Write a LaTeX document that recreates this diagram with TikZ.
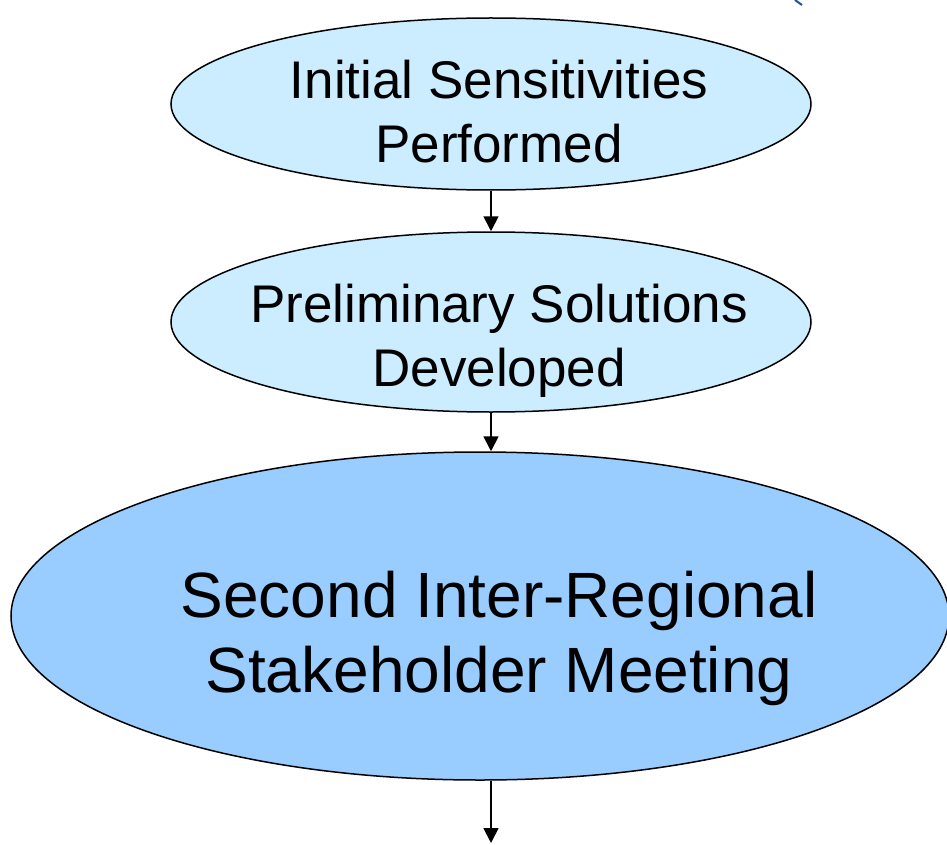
\documentclass[tikz,border=0pt]{standalone}
\usepackage{fontspec}
\setmainfont{Liberation Sans}
\usetikzlibrary{shapes.geometric,arrows.meta}
\definecolor{lightfill}{HTML}{CCECFF}
\definecolor{darkfill}{HTML}{99CCFF}
\definecolor{markblue}{HTML}{1F4FB0}
\newcommand\lsA{\rule[-13pt]{0pt}{64pt}}
\newcommand\lsB{\rule[-15pt]{0pt}{75pt}}
\begin{document}
\begin{tikzpicture}[x=1pt,y=-1pt,
  stage/.style={ellipse, draw=black, line width=1.5pt, inner sep=0pt},
  smallstage/.style={stage, fill=lightfill, minimum width=640pt},
  bigstage/.style={stage, fill=darkfill, minimum width=938pt, minimum height=328pt},
  lbl/.style={align=center, inner sep=0pt, font=\fontsize{53}{64}\selectfont},
  lblbig/.style={align=center, inner sep=0pt, font=\fontsize{64}{75}\selectfont},
  flow/.style={line width=1.8pt, -{Triangle[length=15pt,width=15pt]}}]
\useasboundingbox (0,0) rectangle (947,845);
\node[smallstage, minimum height=172pt] (e1) at (491,104) {};
\node[smallstage, minimum height=180pt] (e2) at (491,322) {};
\node[bigstage] (e3) at (480,616) {};
\node[lbl] (t1) at (499,111.5) {\lsA Initial Sensitivities\\\lsA Performed};
\node[lbl] (t2) at (499,335.5) {\lsA Preliminary Solutions\\\lsA Developed};
\node[lblbig] (t3) at (499,632) {\lsB Second Inter-Regional\\\lsB Stakeholder Meeting};
\coordinate (end) at (491,843);
\draw[flow] (e1.south) -- (e2.north);
\draw[flow] (e2.south) -- (e3.north -| e2.south);
\draw[flow] (end |- e3.south) -- (end);
\draw[markblue, line width=2pt] (795,0) -- (802,5);
\end{tikzpicture}
\end{document}
